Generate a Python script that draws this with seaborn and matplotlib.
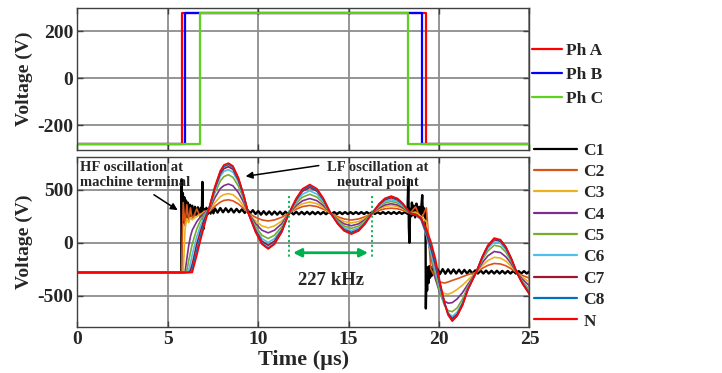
import matplotlib
matplotlib.use("Agg")
import matplotlib.pyplot as plt
import numpy as np
import pandas as pd
import seaborn as sns
from matplotlib.lines import Line2D

# ---------------- data: top panel (phase voltages) ----------------
phase_names = ["Ph A", "Ph B", "Ph C"]
phase_rise = [5.76, 5.93, 6.77]      # us
phase_fall = [19.29, 19.06, 18.26]   # us
phase_level = 280                    # V
phase_colors = ["#FF0000", "#0000FF", "#5CD11E"]
t_end = 25

# ---------------- data: bottom panel (coil voltages) ----------------
series_names = ["C1", "C2", "C3", "C4", "C5", "C6", "C7", "C8", "N"]
series_colors = ["#000000", "#D95319", "#EDB120", "#7E2F8E", "#77AC30",
                 "#4DBEEE", "#A2142F", "#0072BD", "#FF0000"]

T_GRID = [0, 5.75, 5.85, 5.95, 6.05, 6.15, 6.25, 6.35, 6.6, 6.8, 7.0, 7.3, 7.6, 7.9, 8.1, 8.35,
          8.6, 8.9, 9.2,
          9.45, 9.85, 10.2, 10.55, 10.9, 11.3, 11.7,
          12.1, 12.45, 12.85, 13.25, 13.6, 14.0,
          14.4, 14.75, 15.15, 15.55, 15.9, 16.3,
          16.7, 17.0, 17.35, 17.7, 18.0, 18.4,
          18.7, 19.0, 19.3, 19.55, 19.8, 20.05, 20.3, 20.5, 20.73, 21.0, 21.3, 21.6, 22.05,
          22.4, 22.7, 23.05, 23.4, 23.7, 24.0, 24.3, 24.6, 25.0]

C2 = [-280, -280, 380, 160, 360, 200, 330, 220, 320, 240, 300, 296, 345, 384, 400, 406,
      396, 367, 324,
      280, 241, 216, 206, 216, 241, 280,
      318, 342, 353, 342, 318, 280,
      246, 225, 215, 225, 246, 280,
      307, 321, 327, 321, 307, 280,
      340, 220, 330, -250, -330, -370, -380, -370, -355, -340, -320, -300, -280,
      -240, -213, -195, -200, -217, -246, -280, -307, -334]
C3 = [-280, -280, -280, 130, 230, 190, 240, 220, 250, 270, 290, 303, 378, 436, 455, 464,
      454, 411, 346,
      280, 206, 160, 141, 160, 206, 280,
      335, 369, 385, 369, 335, 280,
      232, 201, 187, 201, 232, 280,
      321, 342, 352, 342, 321, 280,
      290, 250, 200, -100, -340, -440, -480, -485, -470, -440, -400, -350, -280,
      -213, -167, -137, -144, -174, -222, -280, -325, -371]
C4 = [-280, -280, -280, -280, -150, -30, 60, 120, 200, 245, 280, 315, 425, 512, 540, 555,
      538, 475, 379,
      280, 181, 119, 94, 119, 181, 280,
      352, 397, 418, 397, 352, 280,
      218, 179, 161, 179, 218, 280,
      330, 357, 369, 357, 330, 280,
      270, 235, 130, -120, -340, -480, -550, -570, -565, -530, -470, -390, -280,
      -187, -123, -82, -92, -133, -199, -280, -342, -406]
C5 = [-280, -280, -280, -280, -260, -170, -90, -10, 130, 210, 265, 325, 470, 584, 625, 643,
      618, 535, 409,
      280, 153, 72, 40, 72, 153, 280,
      373, 431, 458, 431, 373, 280,
      206, 158, 137, 158, 206, 280,
      343, 376, 391, 376, 343, 280,
      268, 225, 90, -110, -300, -470, -590, -640, -650, -615, -530, -410, -280,
      -159, -77, -23, -36, -90, -176, -280, -361, -444]
C6 = [-280, -280, -280, -280, -280, -260, -190, -110, 60, 160, 240, 330, 497, 628, 675, 690,
      667, 572, 428,
      280, 133, 40, 3, 40, 133, 280,
      390, 459, 491, 459, 390, 280,
      195, 141, 116, 141, 195, 280,
      352, 390, 407, 390, 352, 280,
      265, 220, 70, -90, -260, -430, -580, -660, -695, -655, -560, -425, -280,
      -144, -51, 9, -5, -66, -163, -280, -371, -464]
C7 = [-280, -280, -280, -280, -280, -280, -260, -200, -10, 110, 210, 335, 512, 652, 700, 718,
      694, 592, 438,
      280, 119, 17, -24, 17, 119, 280,
      406, 487, 523, 487, 406, 280,
      185, 125, 98, 125, 185, 280,
      362, 406, 425, 406, 362, 280,
      265, 225, 90, -50, -215, -400, -570, -670, -715, -675, -575, -435, -280,
      -135, -36, 29, 14, -51, -155, -280, -377, -477]
C8 = [-280, -280, -280, -280, -280, -280, -280, -250, -70, 60, 180, 338, 522, 668, 720, 738,
      712, 606, 445,
      280, 106, -4, -48, -4, 106, 280,
      414, 498, 537, 498, 414, 280,
      180, 117, 88, 117, 180, 280,
      368, 414, 435, 414, 368, 280,
      265, 230, 110, -15, -185, -390, -570, -680, -730, -690, -585, -440, -280,
      -130, -28, 38, 23, -44, -151, -280, -380, -483]
N = [-280, -280, -280, -280, -280, -280, -280, -280, -120, 20, 150, 340, 530, 680, 735, 752,
     725, 616, 450,
     280, 101, -13, -58, -13, 101, 280,
     420, 510, 550, 510, 420, 280,
     177, 112, 82, 112, 177, 280,
     371, 419, 441, 419, 371, 280,
     265, 235, 130, 10, -150, -370, -560, -680, -740, -690, -590, -440, -280,
     -127, -23, 45, 29, -39, -148, -280, -382, -487]

C1_T = [0, 5.74, 5.76, 5.79, 5.83, 5.87, 5.91, 5.95, 6.0, 6.05, 6.1, 6.16, 6.22, 6.28, 6.35,
        6.42, 6.5, 6.58, 6.66, 6.74, 6.82, 6.88, 6.91, 6.94, 6.97, 7.0, 7.06, 7.13, 7.2, 7.28,
        7.36, 7.44, 7.52,
        7.6, 7.75, 7.9, 8.05, 8.2, 8.35, 8.5, 8.65, 8.8, 8.95, 9.1, 9.25, 9.4, 9.55, 9.7, 9.85,
        10.0, 10.15, 10.3, 10.45, 10.6, 10.75, 10.9, 11.05, 11.2, 11.35, 11.5, 11.65, 11.8, 11.95,
        12.1, 12.25, 12.4, 12.55, 12.7, 12.85, 13.0, 13.15, 13.3, 13.45, 13.6, 13.75, 13.9, 14.05,
        14.2, 14.35, 14.5, 14.65, 14.8, 14.95, 15.1, 15.25, 15.4, 15.55, 15.7, 15.85, 16.0, 16.15,
        16.3, 16.45, 16.6, 16.75, 16.9, 17.05, 17.2, 17.35, 17.5, 17.65, 17.8, 17.95, 18.1, 18.25,
        18.3, 18.33, 18.36, 18.4, 18.45, 18.5, 18.55, 18.6, 18.68, 18.75, 18.82, 18.9, 18.97,
        19.03, 19.07, 19.1, 19.15, 19.2, 19.25, 19.27, 19.3, 19.34, 19.38, 19.42, 19.46, 19.5,
        19.55, 19.6, 19.68,
        19.75, 19.9, 20.05, 20.2, 20.35, 20.5, 20.65, 20.8, 20.95, 21.1, 21.25, 21.4, 21.55,
        21.7, 21.85, 22.0, 22.15, 22.3, 22.45, 22.6, 22.75, 22.9, 23.05, 23.2, 23.35, 23.5,
        23.65, 23.8, 23.95, 24.1, 24.25, 24.4, 24.55, 24.7, 24.85, 25.0]
C1_V = [-280, -280, 600, 180, 470, 200, 430, 210, 400, 230, 380, 240, 360, 250, 350,
        255, 340, 260, 335, 265, 330, 270, 575, 250, 130, 320, 260, 330, 270, 325,
        275, 322, 278,
        325, 285, 328, 288, 326, 290, 322, 286, 320, 288, 316, 282, 312, 278, 308, 272,
        300, 266, 298, 266, 296, 266, 295, 266, 294, 267, 294, 268, 293, 268,
        293, 268, 292, 269, 292, 269, 292, 270, 291, 270, 291, 270, 291, 271,
        290, 271, 290, 271, 290, 272, 290, 272, 290, 272, 290, 272, 290, 272,
        290, 272, 290, 273, 290, 273, 290, 273, 290, 273, 290, 273, 290, 275,
        600, 150, 0, 320, 250, 380, 260, 350, 240, 370, 260, 340, 250,
        360, 450, 280, 330, 250, 300, -620, -300, -450, -230, -380, -220, -330,
        -230, -310, -240,
        -300, -245, -295, -248, -292, -250, -290, -252, -290, -254, -290, -256, -290,
        -258, -290, -260, -290, -262, -290, -262, -290, -264, -290, -264, -290, -265,
        -290, -266, -290, -266, -290, -267, -290, -267, -290, -270]

x_ticks = [0, 5, 10, 15, 20, 25]
top_yticks = [-200, 0, 200]
bot_yticks = [-500, 0, 500]

# annotation texts and marks
hf_text = "HF oscillation at\nmachine terminal"
lf_text = "LF oscillation at\nneutral point"
freq_text = "227 kHz"
period_marks = [11.72, 16.28]

# ---------------- build frames ----------------
top_rows = []
for name, r, f in zip(phase_names, phase_rise, phase_fall):
    ts = [0, r, r, f, f, t_end]
    vs = [-phase_level, -phase_level, phase_level, phase_level, -phase_level, -phase_level]
    for t, v in zip(ts, vs):
        top_rows.append({"t": t, "v": v, "phase": name})
top_df = pd.DataFrame(top_rows)

bot_frames = [pd.DataFrame({"t": C1_T, "v": C1_V, "series": "C1"})]
for name, vals in zip(series_names[1:], [C2, C3, C4, C5, C6, C7, C8, N]):
    bot_frames.append(pd.DataFrame({"t": T_GRID, "v": vals, "series": name}))
bot_df = pd.concat(bot_frames, ignore_index=True)

# ---------------- style ----------------
sns.set_theme(style="ticks")
plt.rcParams["font.family"] = ["Liberation Serif", "DejaVu Serif"]
plt.rcParams["font.weight"] = "bold"
plt.rcParams["axes.unicode_minus"] = False

fig = plt.figure(figsize=(7.22, 3.73), dpi=100)
ax1 = fig.add_axes([0.1073, 0.5979, 0.626, 0.3817])
ax2 = fig.add_axes([0.1073, 0.1227, 0.626, 0.4564])

grid_kw = dict(color="#8c8c8c", linewidth=1.3)

def style_axes(ax):
    ax.grid(True, **grid_kw)
    ax.set_axisbelow(True)
    for s in ax.spines.values():
        s.set_color("#404040")
        s.set_linewidth(1.0)
    ax.tick_params(direction="in", length=4, width=1, color="#404040",
                   top=True, right=True, labelsize=14, pad=3)
    for lab in ax.get_xticklabels() + ax.get_yticklabels():
        lab.set_fontweight("bold")

# top panel
sns.lineplot(data=top_df, x="t", y="v", hue="phase", hue_order=phase_names,
             palette=dict(zip(phase_names, phase_colors)), sort=False,
             estimator=None, linewidth=1.6, legend=False, ax=ax1)
ax1.set_xlim(0, t_end)
ax1.set_ylim(-306, 302)
ax1.set_xticks(x_ticks)
ax1.set_xticklabels([])
ax1.set_yticks(top_yticks)
ax1.set_yticklabels([str(v) for v in top_yticks])
ax1.set_xlabel("")
ax1.set_ylabel("Voltage (V)", fontsize=14, fontweight="bold", labelpad=3)
style_axes(ax1)

# bottom panel
sns.lineplot(data=bot_df, x="t", y="v", hue="series", hue_order=series_names,
             palette=dict(zip(series_names, series_colors)), sort=False,
             estimator=None, linewidth=1.2, legend=False, ax=ax2)
ax2.lines[0].set_linewidth(1.7)
ax2.set_xlim(0, t_end)
ax2.set_ylim(-797, 810)
ax2.set_xticks(x_ticks)
ax2.set_xticklabels([str(v) for v in x_ticks])
ax2.set_yticks(bot_yticks)
ax2.set_yticklabels([str(v) for v in bot_yticks])
ax2.set_xlabel("Time (\u00b5s)", fontsize=16, fontweight="bold", labelpad=1)
ax2.set_ylabel("Voltage (V)", fontsize=14, fontweight="bold", labelpad=3)
style_axes(ax2)

# annotations
ax2.text(0.14, 640, hf_text, fontsize=10.5, fontweight="bold", ha="left",
         va="center", linespacing=1.15)
ax2.annotate("", xy=(5.67, 294), xytext=(4.1, 468),
             arrowprops=dict(arrowstyle="-|>", color="black", lw=1.1, mutation_scale=10))
ax2.text(16.6, 642, lf_text, fontsize=10.5, fontweight="bold", ha="center",
         va="center", linespacing=1.15)
ax2.annotate("", xy=(9.15, 624), xytext=(13.5, 733),
             arrowprops=dict(arrowstyle="-|>", color="black", lw=1.1, mutation_scale=10))
for tm in period_marks:
    ax2.plot([tm, tm], [440, -140], linestyle=(0, (1.2, 1.5)), color="#00B050", lw=1.3)
ax2.annotate("", xy=(period_marks[1] - 0.05, -94), xytext=(period_marks[0] + 0.05, -94),
             arrowprops=dict(arrowstyle="<|-|>", color="#00B050", lw=2.0, mutation_scale=12))
ax2.text(14.0, -360, freq_text, fontsize=13.5, fontweight="bold", ha="center", va="center")

# legends
h1 = [Line2D([0], [0], color=c, lw=1.6) for c in phase_colors]
fig.legend(h1, phase_names, loc="center left", bbox_to_anchor=(532 / 722, 1 - 75 / 373),
           frameon=False, borderpad=0, borderaxespad=0, handlelength=1.7,
           handletextpad=0.25, labelspacing=0.45,
           prop={"size": 12.5, "weight": "bold"})
h2 = [Line2D([0], [0], color=c, lw=1.6) for c in series_colors]
fig.legend(h2, series_names, loc="center left", bbox_to_anchor=(534 / 722, 1 - 236 / 373),
           frameon=False, borderpad=0, borderaxespad=0, handlelength=2.45,
           handletextpad=0.4, labelspacing=0.3,
           prop={"size": 12.5, "weight": "bold"})

fig.savefig("out.png", dpi=100)
